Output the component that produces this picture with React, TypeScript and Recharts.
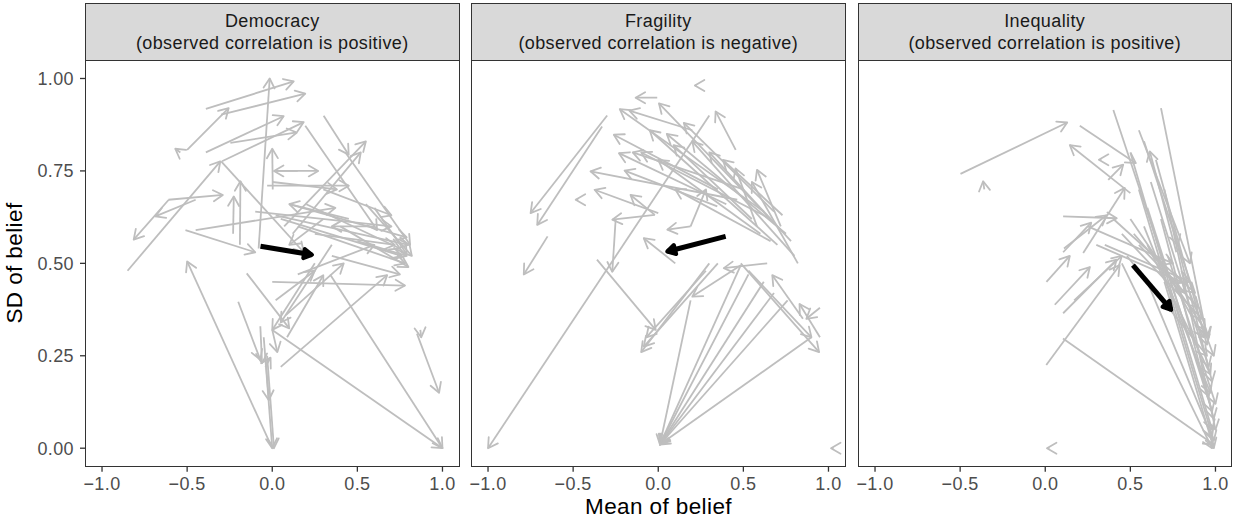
import { LineChart, Line, XAxis, YAxis } from 'recharts';

type Arrow = [number, number, number, number];

const panelTitles = ['Democracy', 'Fragility', 'Inequality'];
const panelNotes = [
  '(observed correlation is positive)',
  '(observed correlation is negative)',
  '(observed correlation is positive)',
];
const xTicks = [-1, -0.5, 0, 0.5, 1];
const yTicks = [0, 0.25, 0.5, 0.75, 1];

// [mean before, sd before, mean after, sd after]
const democracyArrows: Arrow[] = [
  [-0.39, 0.918, 0.126, 0.992],
  [-0.08, 0.54, -0.015, 1.0],
  [-0.3, 0.902, 0.194, 0.959],
  [-0.5, 0.807, -0.256, 0.92],
  [-0.85, 0.48, -0.305, 0.776],
  [-0.54, 0.8, -0.57, 0.81],
  [-0.39, 0.8, 0.067, 0.898],
  [-0.295, 0.776, 0.185, 0.882],
  [-0.246, 0.826, 0.145, 0.854],
  [0.302, 0.899, 0.449, 0.794],
  [0.43, 0.8, 0.81, 0.55],
  [0.194, 0.872, 0.616, 0.59],
  [0.6, 0.65, 0.79, 0.525],
  [0.003, 0.7, 0.0, 0.81],
  [0.02, 0.75, 0.27, 0.75],
  [0.15, 0.75, 0.01, 0.75],
  [-0.608, 0.672, -0.814, 0.564],
  [-0.45, 0.672, -0.687, 0.627],
  [-0.61, 0.672, -0.29, 0.685],
  [-0.19, 0.55, -0.187, 0.722],
  [-0.23, 0.58, -0.226, 0.681],
  [-0.51, 0.59, -0.1, 0.53],
  [-0.45, 0.59, 0.371, 0.65],
  [-0.3, 0.776, 0.185, 0.53],
  [0.0, 0.72, 0.38, 0.7],
  [0.07, 0.6, 0.55, 0.83],
  [0.12, 0.58, 0.52, 0.8],
  [-0.03, 0.71, 0.45, 0.71],
  [0.02, 0.63, 0.8, 0.55],
  [0.05, 0.62, 0.76, 0.52],
  [0.1, 0.66, 0.79, 0.57],
  [0.15, 0.6, 0.78, 0.5],
  [-0.1, 0.64, 0.7, 0.6],
  [0.2, 0.66, 0.75, 0.54],
  [0.25, 0.58, 0.72, 0.55],
  [0.3, 0.62, 0.1, 0.55],
  [0.4, 0.6, 0.8, 0.49],
  [0.35, 0.52, 0.75, 0.47],
  [0.5, 0.56, 0.79, 0.52],
  [0.3, 0.7, 0.7, 0.63],
  [0.55, 0.66, 0.82, 0.52],
  [0.0, 0.45, 0.78, 0.44],
  [0.15, 0.47, 0.6, 0.55],
  [-0.15, 0.473, 0.1, 0.324],
  [0.0, 0.32, 0.03, 0.26],
  [0.0, 0.32, 1.0, 0.0],
  [0.34, 0.47, 1.0, 0.0],
  [0.05, 0.22, 0.675, 0.468],
  [0.85, 0.31, 0.98, 0.15],
  [0.87, 0.32, 0.875, 0.3],
  [-0.2, 0.396, -0.07, 0.239],
  [0.0, 0.0, -0.5, 0.505],
  [-0.05, 0.3, 0.0, 0.0],
  [-0.03, 0.25, 0.01, 0.0],
  [-0.04, 0.25, -0.02, 0.13],
  [-0.07, 0.33, -0.06, 0.23],
  [-0.04, 0.22, -0.01, 0.245],
  [0.087, 0.3, 0.3, 0.468],
  [0.08, 0.36, 0.42, 0.5],
  [0.02, 0.4, 0.25, 0.48],
  [0.35, 0.55, 0.05, 0.34],
  [0.25, 0.5, 0.0, 0.32],
  [0.45, 0.62, 0.1, 0.66],
  [0.6, 0.6, 0.35, 0.6],
];
const democracyMean: Arrow = [-0.069, 0.546, 0.233, 0.523];

const fragilityArrows: Arrow[] = [
  [0.225, 0.981, 0.215, 0.981],
  [-0.006, 0.948, -0.133, 0.948],
  [0.7, 0.6, 0.004, 0.933],
  [0.62, 0.64, -0.226, 0.917],
  [0.2, 0.86, -0.17, 0.913],
  [-0.3, 0.9, -0.75, 0.636],
  [-0.33, 0.87, -0.711, 0.604],
  [0.3, 0.9, -1.0, 0.0],
  [0.455, 0.807, 0.337, 0.911],
  [0.35, 0.7, -0.261, 0.848],
  [0.4, 0.66, -0.231, 0.798],
  [0.347, 0.654, -0.198, 0.751],
  [0.464, 0.672, -0.398, 0.749],
  [0.0, 0.636, -0.374, 0.699],
  [-0.02, 0.631, -0.27, 0.618],
  [-0.47, 0.672, -0.485, 0.672],
  [-0.02, 0.631, -0.163, 0.685],
  [-0.65, 0.573, -0.79, 0.47],
  [0.1, 0.5, -0.085, 0.568],
  [0.19, 0.6, 0.053, 0.591],
  [0.19, 0.6, 0.28, 0.7],
  [0.19, 0.4, 0.01, 0.01],
  [0.485, 0.495, 0.01, 0.01],
  [0.53, 0.47, 0.01, 0.01],
  [0.62, 0.45, 0.01, 0.01],
  [0.68, 0.42, 0.01, 0.01],
  [0.76, 0.4, 0.01, 0.01],
  [0.9, 0.3, 0.01, 0.01],
  [1.03, 0.0, 1.015, 0.0],
  [0.485, 0.495, 0.2, 0.41],
  [0.64, 0.5, 0.385, 0.487],
  [0.485, 0.5, 0.945, 0.26],
  [0.53, 0.48, 0.9, 0.3],
  [0.85, 0.35, 0.67, 0.468],
  [0.95, 0.3, 0.83, 0.39],
  [0.95, 0.38, 0.87, 0.35],
  [-0.36, 0.51, -0.015, 0.32],
  [0.35, 0.5, -0.085, 0.275],
  [0.3, 0.5, -0.1, 0.26],
  [0.28, 0.48, -0.07, 0.3],
  [-0.25, 0.62, -0.27, 0.477],
  [0.72, 0.6, 0.58, 0.753],
  [0.58, 0.6, 0.454, 0.757],
  [0.75, 0.58, 0.05, 0.85],
  [0.66, 0.62, -0.1, 0.8],
  [0.7, 0.55, -0.05, 0.86],
  [0.55, 0.62, 0.09, 0.82],
  [0.8, 0.52, 0.2, 0.83],
  [0.68, 0.64, 0.15, 0.88],
  [0.5, 0.7, -0.15, 0.8],
  [0.78, 0.56, 0.3, 0.8],
  [0.6, 0.58, 0.0, 0.78],
  [0.73, 0.63, 0.38, 0.78],
  [0.82, 0.5, 0.55, 0.72],
  [0.66, 0.56, 0.1, 0.7],
];
const fragilityMean: Arrow = [0.396, 0.573, 0.053, 0.532];

const inequalityArrows: Arrow[] = [
  [-0.498, 0.742, 0.129, 0.881],
  [-0.358, 0.7, -0.365, 0.722],
  [0.203, 0.872, 0.532, 0.771],
  [0.4, 0.915, 0.96, 0.14],
  [0.5, 0.69, 0.144, 0.82],
  [0.33, 0.78, 0.315, 0.78],
  [0.37, 0.726, 0.458, 0.767],
  [0.77, 0.53, 0.614, 0.803],
  [0.5, 0.8, 0.98, 0.05],
  [0.223, 0.528, 0.467, 0.704],
  [0.105, 0.627, 0.42, 0.622],
  [0.006, 0.225, 0.437, 0.495],
  [0.104, 0.297, 0.99, 0.01],
  [0.025, 0.0, 0.01, 0.0],
  [0.007, 0.45, 0.144, 0.52],
  [0.056, 0.388, 0.262, 0.49],
  [0.105, 0.365, 0.419, 0.51],
  [0.17, 0.4, 0.45, 0.52],
  [0.105, 0.53, 0.27, 0.61],
  [0.11, 0.54, 0.36, 0.63],
  [0.55, 0.7, 0.99, 0.02],
  [0.6, 0.65, 0.98, 0.1],
  [0.58, 0.6, 0.97, 0.15],
  [0.62, 0.72, 0.96, 0.22],
  [0.65, 0.78, 0.95, 0.28],
  [0.5, 0.62, 0.94, 0.32],
  [0.45, 0.58, 0.92, 0.35],
  [0.6, 0.55, 0.97, 0.2],
  [0.68, 0.62, 0.99, 0.08],
  [0.7, 0.7, 1.0, 0.05],
  [0.55, 0.55, 0.9, 0.38],
  [0.4, 0.62, 0.88, 0.42],
  [0.35, 0.55, 0.85, 0.45],
  [0.48, 0.52, 0.95, 0.25],
  [0.75, 0.6, 0.98, 0.18],
  [0.72, 0.52, 1.0, 0.12],
  [0.8, 0.48, 0.99, 0.25],
  [0.78, 0.55, 0.96, 0.3],
  [0.66, 0.52, 0.93, 0.3],
  [0.52, 0.58, 0.82, 0.42],
  [0.6, 0.45, 0.98, 0.03],
  [0.7, 0.45, 0.99, 0.0],
  [0.45, 0.5, 0.98, 0.0],
  [0.3, 0.55, 0.8, 0.45],
  [0.25, 0.6, 0.75, 0.5],
  [0.58, 0.83, 0.78, 0.55],
  [0.68, 0.92, 0.95, 0.3],
  [0.55, 0.86, 0.85, 0.5],
];
const inequalityMean: Arrow = [0.515, 0.495, 0.74, 0.374];

const panelArrows = [democracyArrows, fragilityArrows, inequalityArrows];
const panelMeans = [democracyMean, fragilityMean, inequalityMean];

const PANEL_LEFT = [85, 471, 857.5];
const PANEL_W = 374.5;
const PLOT_TOP = 60;
const PLOT_H = 406.7;
const Y_AXIS_W = 50;
const X_AXIS_H = 40;
const PAD = 20; // room for tick labels that hang past the panel edge
const GREY = '#BEBEBE';
const FONT = '"Liberation Sans", Arial, Helvetica, sans-serif';

const fmtX = (v: number) => (v < 0 ? '\u2212' : '') + Math.abs(v).toFixed(1);
const fmtY = (v: number) => v.toFixed(2);

function toPoints(a: Arrow) {
  return [
    { x: a[0], y: a[1] },
    { x: a[2], y: a[3] },
  ];
}

function Panel({ index }: { index: number }) {
  const showY = index === 0;
  const yW = showY ? Y_AXIS_W : 0;
  const padL = showY ? 0 : PAD;
  const left = PANEL_LEFT[index];
  return (
    <>
      <div style={{ position: 'absolute', left: left - yW - padL, top: PLOT_TOP }}>
        <LineChart
          width={PANEL_W + yW + padL}
          height={PLOT_H + X_AXIS_H}
          margin={{ top: 0, right: 0, bottom: 0, left: padL }}
        >
          <XAxis
            type="number"
            dataKey="x"
            domain={[-1.1, 1.1]}
            ticks={xTicks}
            interval={0}
            tickFormatter={fmtX}
            height={X_AXIS_H}
            axisLine={false}
            tickSize={5}
            tickMargin={6}
            tickLine={{ stroke: '#333333', strokeWidth: 1.3 }}
            tick={{ fontSize: 18, fill: '#4D4D4D' }}
            allowDataOverflow
          />
          <YAxis
            type="number"
            domain={[-0.05, 1.05]}
            ticks={yTicks}
            interval={0}
            tickFormatter={fmtY}
            width={yW}
            hide={!showY}
            axisLine={false}
            tickSize={5}
            tickMargin={6}
            tickLine={{ stroke: '#333333', strokeWidth: 1.3 }}
            tick={{ fontSize: 18, fill: '#4D4D4D' }}
            allowDataOverflow
          />
          {panelArrows[index].map((a, i) => (
            <Line
              key={i}
              data={toPoints(a)}
              dataKey="y"
              stroke={GREY}
              strokeWidth={1.8}
              dot={false}
              activeDot={false}
              legendType="none"
              markerEnd="url(#headGrey)"
              isAnimationActive={false}
            />
          ))}
          <Line
            data={toPoints(panelMeans[index])}
            dataKey="y"
            stroke="#000000"
            strokeWidth={5}
            dot={false}
            activeDot={false}
            legendType="none"
            markerEnd="url(#headBlack)"
            isAnimationActive={false}
          />
        </LineChart>
      </div>
      <div
        style={{
          position: 'absolute',
          left,
          top: PLOT_TOP,
          width: PANEL_W,
          height: PLOT_H,
          border: '1.4px solid #333333',
          boxSizing: 'border-box',
          pointerEvents: 'none',
        }}
      />
      <div
        style={{
          position: 'absolute',
          left,
          top: 3,
          width: PANEL_W,
          height: PLOT_TOP - 3 + 1.4,
          border: '1.4px solid #333333',
          boxSizing: 'border-box',
          background: '#D9D9D9',
          color: '#1A1A1A',
          fontSize: 18,
          lineHeight: '21.6px',
          textAlign: 'center',
          display: 'flex',
          flexDirection: 'column',
          justifyContent: 'center',
          paddingTop: 1,
        }}
      >
        <div>{panelTitles[index]}</div>
        <div>{panelNotes[index]}</div>
      </div>
    </>
  );
}

export default function App() {
  return (
    <div
      style={{
        position: 'absolute',
        left: 0,
        top: 0,
        width: 1233,
        height: 525,
        background: '#FFFFFF',
        fontFamily: FONT,
        letterSpacing: '0.4px',
        overflow: 'hidden',
      }}
    >
      <svg width={0} height={0} style={{ position: 'absolute' }}>
        <defs>
          <marker
            id="headGrey"
            viewBox="-14 -10 18 20"
            markerUnits="userSpaceOnUse"
            markerWidth={18}
            markerHeight={20}
            refX={0}
            refY={0}
            orient="auto"
          >
            <path d="M-9.5,-5.5L0,0L-9.5,5.5" fill="none" stroke={GREY} strokeWidth={1.8} strokeLinejoin="round" strokeLinecap="round" />
          </marker>
          <marker
            id="headBlack"
            viewBox="-16 -12 24 24"
            markerUnits="userSpaceOnUse"
            markerWidth={24}
            markerHeight={24}
            refX={0}
            refY={0}
            orient="auto"
          >
            <path d="M-8,-4.6L0,0L-8,4.6Z" fill="#000000" stroke="#000000" strokeWidth={4} strokeLinejoin="round" />
          </marker>
        </defs>
      </svg>
      {[0, 1, 2].map((i) => (
        <Panel key={i} index={i} />
      ))}
      <div
        style={{
          position: 'absolute',
          left: PANEL_LEFT[0],
          width: PANEL_LEFT[2] + PANEL_W - PANEL_LEFT[0],
          top: 494,
          textAlign: 'center',
          fontSize: 22.5,
          lineHeight: '26px',
          color: '#000000',
        }}
      >
        Mean of belief
      </div>
      <div
        style={{
          position: 'absolute',
          left: 15,
          top: PLOT_TOP + PLOT_H / 2,
          transform: 'translate(-50%, -50%) rotate(-90deg)',
          whiteSpace: 'nowrap',
          fontSize: 22.5,
          lineHeight: '26px',
          color: '#000000',
        }}
      >
        SD of belief
      </div>
    </div>
  );
}
